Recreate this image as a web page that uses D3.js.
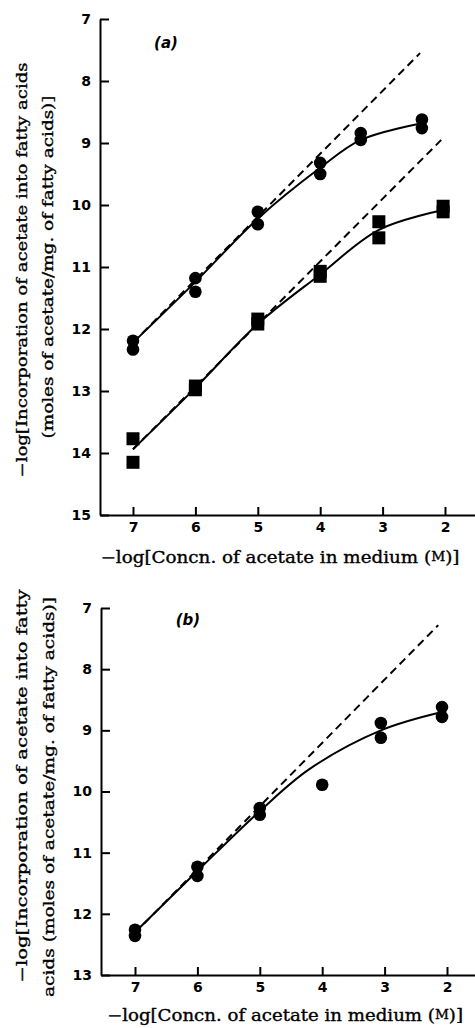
<!DOCTYPE html>
<html><head><meta charset="utf-8">
<script src="https://cdn.jsdelivr.net/npm/d3@7"></script>
<style>body{margin:0;background:#fff}svg{display:block}</style>
</head><body>
<script>
// ---------- tick values ----------
const xTicks = [7, 6, 5, 4, 3, 2];
const yTicksA = [7, 8, 9, 10, 11, 12, 13, 14, 15];
const yTicksB = [7, 8, 9, 10, 11, 12, 13];

// ---------- panel (a) data ----------
const aCircleX = [7, 7, 6, 6, 5, 5, 4, 4, 3.35, 3.35, 2.37, 2.37];
const aCircleY = [12.19, 12.33, 11.18, 11.4, 10.11, 10.31, 9.32, 9.5, 8.84, 8.95, 8.62, 8.76];
const aSquareX = [7, 7, 6, 6, 5, 5, 4, 4, 3.06, 3.06, 2.03, 2.03];
const aSquareY = [13.77, 14.15, 12.92, 12.98, 11.84, 11.92, 11.07, 11.15, 10.27, 10.53, 10.02, 10.11];
const aCurve1X = [7, 6, 5, 4, 3.35, 2.37];
const aCurve1Y = [12.22, 11.24, 10.22, 9.4, 8.95, 8.68];
const aCurve2X = [7, 6, 5, 4, 3.06, 2.03];
const aCurve2Y = [13.94, 12.95, 11.92, 11.12, 10.4, 10.08];
const aDash1X = [7, 2.4];
const aDash1Y = [12.22, 7.55];
const aDash2X = [7, 2.06];
const aDash2Y = [13.94, 8.95];

// ---------- panel (b) data ----------
const bCircleX = [7, 7, 6, 6, 5, 5, 4, 3.06, 3.06, 2.08, 2.08];
const bCircleY = [12.26, 12.36, 11.23, 11.38, 10.27, 10.38, 9.89, 8.88, 9.12, 8.62, 8.78];
const bCurveX = [7, 6, 5, 4.2, 3.06, 2.08];
const bCurveY = [12.3, 11.3, 10.32, 9.63, 9.0, 8.7];
const bDashX = [7, 2.14];
const bDashY = [12.31, 7.28];

const W = 475, H = 1028;
const svg = d3.select("body").append("svg").attr("width", W).attr("height", H);

const tickFont = "'DejaVu Sans', sans-serif";
const titleFont = "'DejaVu Serif', 'Liberation Serif', serif";

function zip(xs, ys) { return xs.map((x, i) => [x, ys[i]]); }

function panel(cfg) {
  const g = svg.append("g");
  const x = d3.scaleLinear().domain(cfg.xDomain).range(cfg.xRange);
  const y = d3.scaleLinear().domain(cfg.yDomain).range(cfg.yRange);

  const xAxis = g.append("g").attr("transform", `translate(0,${cfg.yRange[1]})`)
    .call(d3.axisBottom(x).tickValues(xTicks).tickSizeInner(-8).tickSizeOuter(0).tickPadding(7).tickFormat(d3.format("d")));
  const yAxis = g.append("g").attr("transform", `translate(${cfg.xRange[0]},0)`)
    .call(d3.axisLeft(y).tickValues(cfg.yTicks).tickSizeInner(-9).tickSizeOuter(0).tickPadding(9).tickFormat(d3.format("d")));
  [xAxis, yAxis].forEach(a => {
    a.selectAll("path,line").attr("stroke", "#000").attr("stroke-width", 2);
    a.selectAll("text").attr("font-family", tickFont).attr("font-weight", "bold")
      .attr("font-size", 14).attr("fill", "#000");
  });

  const line = d3.line().x(d => x(d[0])).y(d => y(d[1]));
  cfg.dashes.forEach(d => {
    g.append("path").datum(d).attr("d", line).attr("fill", "none")
      .attr("stroke", "#000").attr("stroke-width", 2).attr("stroke-dasharray", "8,5");
  });
  const curve = d3.line().x(d => x(d[0])).y(d => y(d[1])).curve(d3.curveCatmullRom.alpha(0.5));
  cfg.curves.forEach(d => {
    g.append("path").datum(d).attr("d", curve).attr("fill", "none")
      .attr("stroke", "#000").attr("stroke-width", 2);
  });
  g.selectAll("circle.pt").data(cfg.circles).join("circle")
    .attr("cx", d => x(d[0])).attr("cy", d => y(d[1])).attr("r", 6.3).attr("fill", "#000");
  if (cfg.squares) {
    const s = 13;
    g.selectAll("rect.sq").data(cfg.squares).join("rect")
      .attr("x", d => x(d[0]) - s / 2).attr("y", d => y(d[1]) - s / 2)
      .attr("width", s).attr("height", s).attr("fill", "#000");
  }

  // panel label
  g.append("text").attr("x", cfg.label[0]).attr("y", cfg.label[1])
    .attr("font-family", tickFont).attr("font-style", "italic").attr("font-weight", "bold")
    .attr("font-size", 15).attr("text-anchor", "middle").attr("dominant-baseline", "central")
    .text(cfg.label[2]);

  // y title lines
  cfg.yTitle.forEach(t => {
    g.append("text").attr("transform", `translate(${t.x},${t.y}) rotate(-90)`)
      .attr("text-anchor", "middle").attr("dominant-baseline", "central")
      .attr("font-family", titleFont).attr("font-size", 15)
      .attr("stroke", "#000").attr("stroke-width", 0.35)
      .attr("textLength", t.len).attr("lengthAdjust", "spacingAndGlyphs")
      .text(t.text);
  });
  // x title
  const xt = g.append("text").attr("x", cfg.xTitle.x).attr("y", cfg.xTitle.y)
    .attr("text-anchor", "middle").attr("dominant-baseline", "central")
    .attr("font-family", titleFont).attr("font-size", 16)
    .attr("stroke", "#000").attr("stroke-width", 0.35)
    .attr("textLength", cfg.xTitle.len).attr("lengthAdjust", "spacingAndGlyphs");
  xt.append("tspan").text("\u2212log[Concn. of acetate in medium (");
  xt.append("tspan").attr("font-size", 12).text("M");
  xt.append("tspan").text(")]");
}

panel({
  xDomain: [7 + 33 / 62.4, 2 - 30 / 62.4], xRange: [100, 475],
  yDomain: [7, 15], yRange: [19, 515], yTicks: yTicksA,
  circles: zip(aCircleX, aCircleY), squares: zip(aSquareX, aSquareY),
  curves: [zip(aCurve1X, aCurve1Y), zip(aCurve2X, aCurve2Y)],
  dashes: [zip(aDash1X, aDash1Y), zip(aDash2X, aDash2Y)],
  label: [166, 43, "(a)"],
  yTitle: [
    { x: 22, y: 270, len: 415, text: "\u2212log[Incorporation of acetate into fatty acids" },
    { x: 48, y: 267, len: 343, text: "(moles of acetate/mg. of fatty acids)]" }
  ],
  xTitle: { x: 280, y: 557, len: 359 }
});

panel({
  xDomain: [7 + 34 / 62.4, 2 - 28 / 62.4], xRange: [101, 475],
  yDomain: [7, 13], yRange: [608, 975], yTicks: yTicksB,
  circles: zip(bCircleX, bCircleY),
  curves: [zip(bCurveX, bCurveY)],
  dashes: [zip(bDashX, bDashY)],
  label: [188, 620, "(b)"],
  yTitle: [
    { x: 22, y: 786, len: 393, text: "\u2212log[Incorporation of acetate into fatty" },
    { x: 49, y: 797, len: 400, text: "acids (moles of acetate/mg. of fatty acids)]" }
  ],
  xTitle: { x: 285, y: 1015, len: 356 }
});
</script>
</body></html>
